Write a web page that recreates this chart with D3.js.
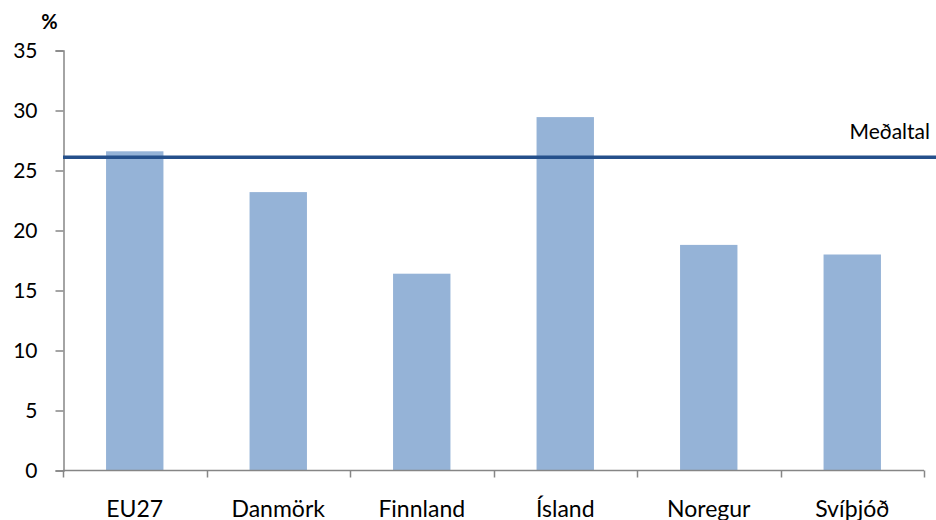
<!DOCTYPE html>
<html>
<head>
<meta charset="utf-8">
<script src="https://cdn.jsdelivr.net/npm/d3@7"></script>
<style>
  body { margin: 0; background: #ffffff; }
  svg { display: block; }
</style>
</head>
<body>
<div id="chart"></div>
<script>
// data
var countries = ["EU27", "Danmörk", "Finnland", "Ísland", "Noregur", "Svíþjóð"];
var values = [26.6, 23.2, 16.4, 29.45, 18.8, 18.0];
var meanValue = 26.1;
var meanLabel = "Meðaltal";
var yTicks = [0, 5, 10, 15, 20, 25, 30, 35];
var unitLabel = "%";

var width = 936,
  height = 520;

var fontFamily = "Lato, 'Open Sans', sans-serif";

var svg = d3
  .select("#chart")
  .append("svg")
  .attr("width", width)
  .attr("height", height);

// scales
var x = d3
  .scaleBand()
  .domain(countries)
  .range([63, 924])
  .paddingInner(0.6)
  .paddingOuter(0.3);

var y = d3.scaleLinear().domain([0, 35]).range([470.5, 50.5]);

// bars
svg
  .selectAll(".bar")
  .data(values)
  .enter()
  .append("rect")
  .attr("x", function (d, i) {
    return x(countries[i]);
  })
  .attr("y", function (d) {
    return y(d);
  })
  .attr("width", x.bandwidth())
  .attr("height", function (d) {
    return y(0) - y(d);
  })
  .attr("fill", "#95b3d7");

// y axis
var yAxis = svg
  .append("g")
  .attr("transform", "translate(63.5,0)")
  .call(d3.axisLeft(y).tickValues(yTicks).tickSize(8).tickPadding(18));

yAxis.select(".domain").attr("stroke", "#868686").attr("stroke-width", 1.5);
yAxis.selectAll(".tick line").attr("stroke", "#868686").attr("stroke-width", 1.5);
yAxis
  .selectAll(".tick text")
  .attr("fill", "#000")
  .style("font-family", fontFamily)
  .style("font-size", "21px");

// x axis - ticks sit between the categories, so draw with a boundary scale
var xEdges = d3
  .scaleLinear()
  .domain([0, countries.length])
  .range([63, 924]);

var xAxis = svg
  .append("g")
  .attr("transform", "translate(0," + y(0) + ")");

xAxis
  .append("line")
  .attr("x1", 63)
  .attr("x2", 924)
  .attr("stroke", "#868686")
  .attr("stroke-width", 1.5);

xAxis
  .selectAll(".edge")
  .data(d3.range(countries.length + 1))
  .enter()
  .append("line")
  .attr("x1", function (d) {
    return Math.round(xEdges(d)) + 0.5;
  })
  .attr("x2", function (d) {
    return Math.round(xEdges(d)) + 0.5;
  })
  .attr("y1", 0)
  .attr("y2", 7)
  .attr("stroke", "#868686")
  .attr("stroke-width", 1.5);

xAxis
  .selectAll(".label")
  .data(countries)
  .enter()
  .append("text")
  .attr("x", function (d) {
    return x(d) + x.bandwidth() / 2;
  })
  .attr("y", 46)
  .attr("text-anchor", "middle")
  .style("font-family", fontFamily)
  .style("font-size", "23px")
  .text(function (d) {
    return d;
  });

// mean line across the plot
svg
  .append("line")
  .attr("x1", 63)
  .attr("x2", width)
  .attr("y1", y(meanValue))
  .attr("y2", y(meanValue))
  .attr("stroke", "#25508b")
  .attr("stroke-width", 3.5);

svg
  .append("text")
  .attr("x", 930)
  .attr("y", 139)
  .attr("text-anchor", "end")
  .style("font-family", fontFamily)
  .style("font-size", "21px")
  .text(meanLabel);

// unit label
svg
  .append("text")
  .attr("x", 49.5)
  .attr("y", 29)
  .attr("text-anchor", "middle")
  .style("font-family", fontFamily)
  .style("font-weight", "bold")
  .style("font-size", "20px")
  .text(unitLabel);
</script>
</body>
</html>
